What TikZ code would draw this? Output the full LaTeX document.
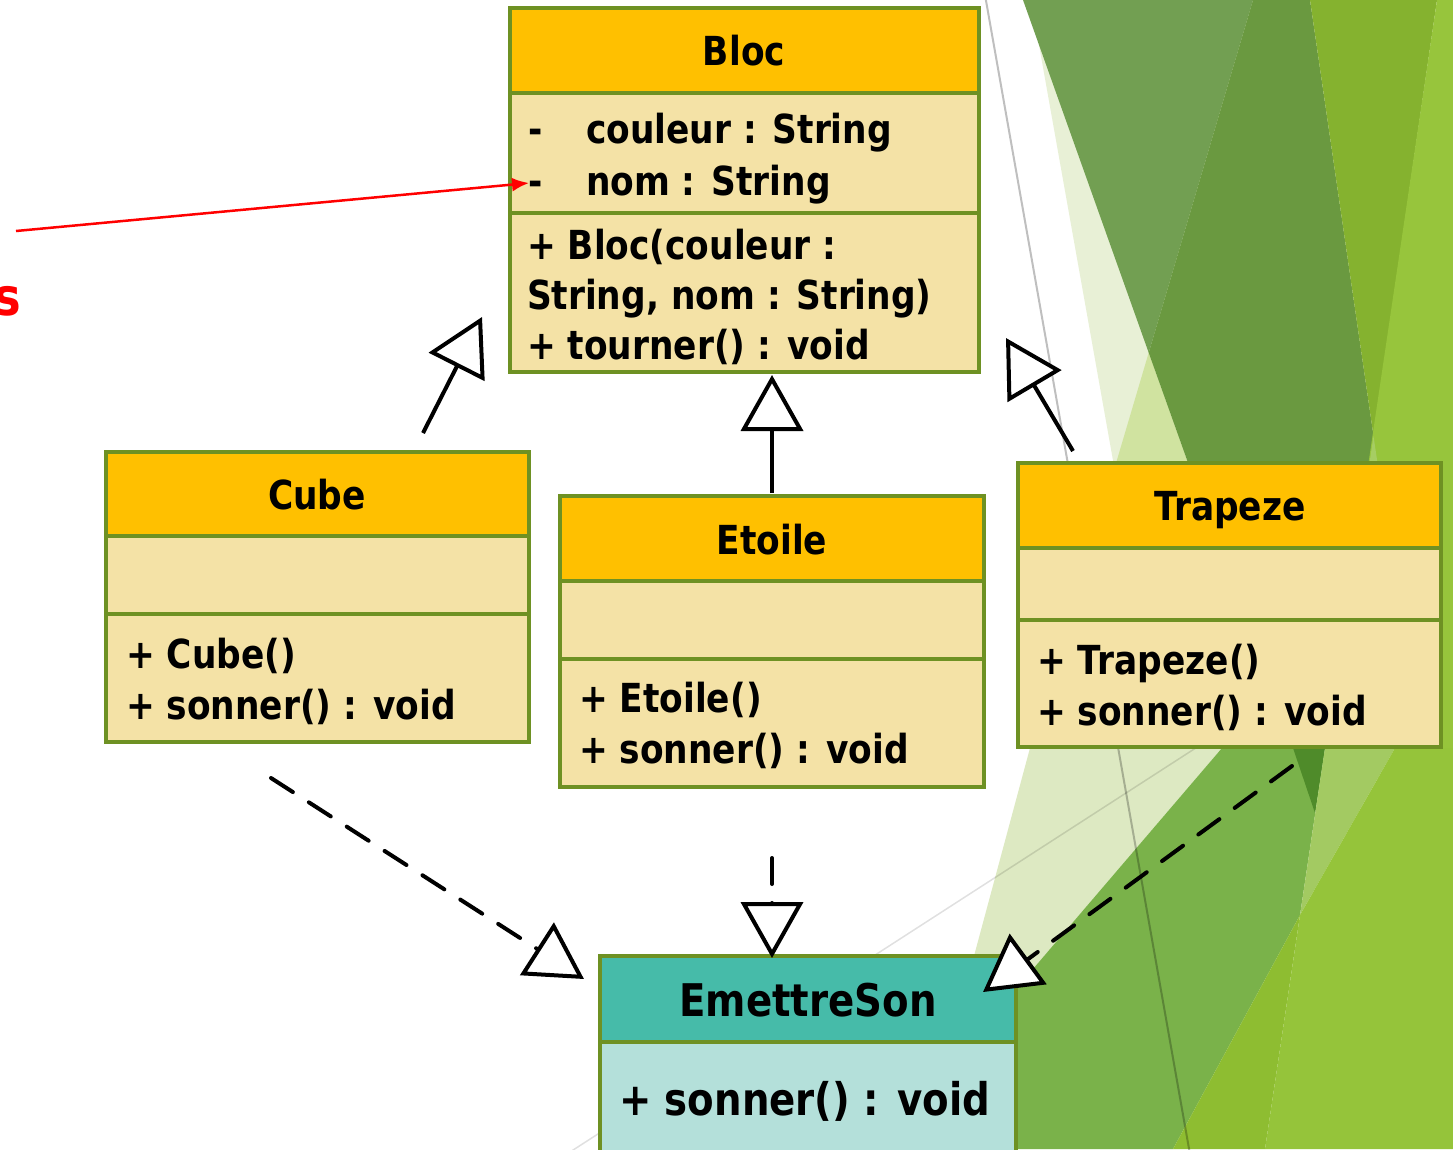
\documentclass[tikz,border=0pt]{standalone}
\usepackage{fontspec}
\newfontfamily\umlfont[FakeStretch=0.86]{DejaVu Sans}
\usetikzlibrary{arrows.meta}
\definecolor{olv}{HTML}{6E9123}
\definecolor{orgC}{HTML}{FFC000}
\definecolor{tanC}{HTML}{F4E2A6}
\definecolor{tealC}{HTML}{46BBA9}
\definecolor{ltealC}{HTML}{B4E0DA}
\definecolor{paleA}{HTML}{E8F0D6}
\definecolor{medA}{HTML}{729F52}
\definecolor{lightA}{HTML}{D0E3A0}
\definecolor{darkA}{HTML}{6A9940}
\definecolor{ygA}{HTML}{85B22F}
\definecolor{ltB}{HTML}{A6CD63}
\definecolor{brightA}{HTML}{97C53C}
\definecolor{paleL}{HTML}{DDE9C2}
\definecolor{medL}{HTML}{7AB24A}
\definecolor{darkL}{HTML}{4F8B2A}
\definecolor{ltL}{HTML}{A3CA62}
\definecolor{ygL}{HTML}{8EBD31}
\definecolor{brightL}{HTML}{95C43A}
\definecolor{redC}{HTML}{FF0000}
\tikzset{
  box/.style={draw=olv, line width=4pt, inner sep=0pt, outer sep=0pt, anchor=north west},
  hdr/.style={box, fill=orgC},
  cmp/.style={box, fill=tanC},
  txt/.style={inner sep=0pt, outer sep=0pt, anchor=base west, font=\umlfont\bfseries\fontsize{40}{40}\selectfont},
  ttl/.style={txt, anchor=base},
  btxt/.style={txt, font=\umlfont\bfseries\fontsize{45}{45}\selectfont},
  gen/.style={line width=4pt, -{Triangle[fill=white, length=56pt, width=62pt]}},
  real/.style={gen, dash pattern=on 26pt off 19pt, line cap=round},
}
\begin{document}
\begin{tikzpicture}[x=1pt,y=-1pt]
\clip (0,0) rectangle (1453,1149);
\fill[white] (0,0) rectangle (1453,1149);
% background facets (upper)
\fill[paleA] (1031,0) -- (1300,0) -- (1300,470) -- (1114.7,470) -- cycle;
\fill[medA] (1023,0) -- (1253,0) -- (1148.7,352.7) -- cycle;
\fill[lightA] (1148.7,352.7) -- (1190.6,470) -- (1114,470) -- cycle;
\fill[darkA] (1253,0) -- (1310,0) -- (1378.5,470) -- (1190.6,470) -- (1148.7,352.7) -- cycle;
\fill[ygA] (1310,0) -- (1437,0) -- (1373.5,436) -- cycle;
\fill[brightA] (1437,0) -- (1453,0) -- (1453,750) -- (1326,750) -- cycle;
\fill[ltB] (1373.5,436) -- (1378.5,470) -- (1368.5,470) -- cycle;
% background facets (lower)
\fill[paleL] (1030,748) -- (1222,748) -- (1000,1008) -- (960,1008) -- cycle;
\fill[medL] (1222,748) -- (1325,748) -- (1300,915) -- (1173,1149) -- (879,1149) -- cycle;
\fill[darkL] (1293,748) -- (1325,748) -- (1315,813) -- cycle;
\fill[ltL] (1325,748) -- (1395,748) -- (1300,915) -- cycle;
\fill[ygL] (1300,915) -- (1265,1149) -- (1173,1149) -- cycle;
\fill[brightL] (1395,748) -- (1453,748) -- (1453,1149) -- (1265,1149) -- (1300,915) -- cycle;
% thin lines
\draw[black, opacity=0.25, line width=2pt] (985,-5) -- (1191,1160);
\draw[black, opacity=0.12, line width=1.5pt] (570,1152) -- (1205,742);

% Bloc
\node[hdr, minimum width=469.5pt, minimum height=85pt] (blocT) at (509.5,8) {};
\node[cmp, minimum width=469.5pt, minimum height=120pt] (blocA) at (509.5,93) {};
\node[cmp, minimum width=469.5pt, minimum height=159pt] (blocM) at (509.5,213) {};
\node[ttl] (blocN) at (744,65) {Bloc};
\node[txt] (blocA1m) at (528,143) {-};
\node[txt] (blocA1) at (586,143) {couleur : String};
\node[txt] (blocA2m) at (528,195) {-};
\node[txt] (blocA2) at (586,195) {nom : String};
\node[txt] (blocM1) at (527,259) {+ Bloc(couleur :};
\node[txt] (blocM2) at (527,309) {String, nom : String)};
\node[txt] (blocM3) at (527,359) {+ tourner() : void};

% Cube
\node[hdr, minimum width=423pt, minimum height=84pt] (cubeT) at (106,452) {};
\node[cmp, minimum width=423pt, minimum height=78pt] (cubeA) at (106,536) {};
\node[cmp, minimum width=423pt, minimum height=128pt] (cubeM) at (106,614) {};
\node[ttl] (cubeN) at (317,509) {Cube};
\node[txt] (cubeM1) at (126,668) {+ Cube()};
\node[txt] (cubeM2) at (126,719) {+ sonner() : void};

% Etoile
\node[hdr, minimum width=424pt, minimum height=85pt] (etoT) at (560,496) {};
\node[cmp, minimum width=424pt, minimum height=78pt] (etoA) at (560,581) {};
\node[cmp, minimum width=424pt, minimum height=128pt] (etoM) at (560,659) {};
\node[ttl] (etoN) at (772,554) {Etoile};
\node[txt] (etoM1) at (579,712) {+ Etoile()};
\node[txt] (etoM2) at (579,763) {+ sonner() : void};

% Trapeze
\node[hdr, minimum width=423pt, minimum height=85pt] (traT) at (1018,463) {};
\node[cmp, minimum width=423pt, minimum height=72pt] (traA) at (1018,548) {};
\node[cmp, minimum width=423pt, minimum height=127pt] (traM) at (1018,620) {};
\node[ttl] (traN) at (1230,520) {Trapeze};
\node[txt] (traM1) at (1037,674) {+ Trapeze()};
\node[txt] (traM2) at (1037,725) {+ sonner() : void};

% EmettreSon
\node[box, fill=tealC, minimum width=416pt, minimum height=86pt] (emT) at (600,956) {};
\node[box, fill=ltealC, minimum width=416pt, minimum height=130pt] (emM) at (600,1042) {};
\node[btxt, anchor=base] (emN) at (808,1016) {EmettreSon};
\node[btxt] (emM1) at (619,1115) {+ sonner() : void};

% connector end points
\coordinate (c1s) at (423,433);  \coordinate (c1e) at (482,317);
\coordinate (c2s) at (772,493);  \coordinate (c2e) at (772,375);
\coordinate (c3s) at (1073,451); \coordinate (c3e) at (1006,338);
\coordinate (d1s) at (271,778);  \coordinate (d1e) at (584,979);
\coordinate (d2s) at (772,858);  \coordinate (d2e) at (772,958);
\coordinate (d3s) at (1292,766); \coordinate (d3e) at (983,992);
\coordinate (rs) at (16,231);    \coordinate (re) at (529,183);

\draw[gen] (c1s) -- (c1e);
\draw[gen] (c2s) -- (c2e);
\draw[gen] (c3s) -- (c3e);
\draw[real] (d1s) -- (d1e);
\draw[real] (d2s) -- (d2e);
\draw[real] (d3s) -- (d3e);

% red annotation
\draw[redC, line width=2.5pt, -{Latex[length=17pt,width=14pt]}] (rs) -- (re);
\node[inner sep=0pt, anchor=base east, text=redC, font=\umlfont\bfseries\fontsize{52}{52}\selectfont] (redS) at (21,315) {s};
\end{tikzpicture}
\end{document}
